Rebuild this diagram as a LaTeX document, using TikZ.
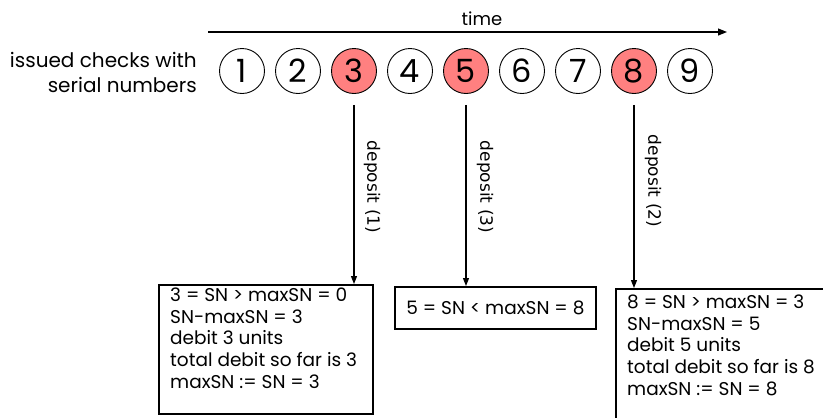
\documentclass[tikz,border=0pt]{standalone}
\usepackage{fontspec}
\setmainfont{Poppins}
\newfontfamily\depfont{DejaVu Sans}
\usetikzlibrary{arrows.meta}
\definecolor{chk}{HTML}{FF8080}
\begin{document}
\begin{tikzpicture}[x=1pt,y=-1pt,
  chkc/.style={circle,draw,line width=0.9pt,minimum size=45pt,inner sep=0pt,font=\fontsize{32}{32}\selectfont},
  hit/.style={chkc,fill=chk},
  boxr/.style={draw,line width=1.8pt,anchor=north west,inner sep=0pt},
  boxt/.style={anchor=north west,inner sep=0pt,align=left,font=\fontsize{18.5}{21.7}\selectfont},
  arr/.style={line width=1.3pt,-{Triangle[length=8pt,width=6pt]}},
  dep/.style={rotate=-90,font=\depfont\fontsize{17}{17}\selectfont,inner sep=0pt}]
\clip (0,0) rectangle (823,418);
% time axis
\coordinate (ts) at (208,32);
\coordinate (te) at (727,32);
\draw[line width=1.1pt,-{Triangle[length=9pt,width=7pt]}] (ts) -- (te);
\node[anchor=base,font=\fontsize{18}{18}\selectfont] (tm) at (482,25) {time};
% left label
\node[anchor=north east,align=right,inner sep=0pt,font=\fontsize{20}{25}\selectfont] (lbl) at (197,52) {issued checks with\\serial numbers};
% checks
\node[chkc] (c1) at (242,71) {1};
\node[chkc] (c2) at (298,71) {2};
\node[hit]  (c3) at (354,71) {3};
\node[chkc] (c4) at (410,71) {4};
\node[hit]  (c5) at (466,71) {5};
\node[chkc] (c6) at (522,71) {6};
\node[chkc] (c7) at (578,71) {7};
\node[hit]  (c8) at (634,71) {8};
\node[chkc] (c9) at (690,71) {9};
% boxes
\node[boxr,minimum width=214pt,minimum height=129pt] (b1) at (158,284) {};
\node[boxt] (t1) at (170,287.5) {3 = SN > maxSN = 0\\SN-maxSN = 3\\debit 3 units\\total debit so far is 3\\maxSN := SN = 3};
\node[boxr,minimum width=201pt,minimum height=42pt,font=\fontsize{18.5}{18.5}\selectfont] (b2) at (394,286) {5 = SN < maxSN = 8};
\node[boxr,minimum width=230pt,minimum height=150pt] (b3) at (615,288) {};
\node[boxt] (t3) at (627,294.5) {8 = SN > maxSN = 3\\SN-maxSN = 5\\debit 5 units\\total debit so far is 8\\maxSN := SN = 8};
% deposits
\draw[arr] ([yshift=-11pt]c3.south) -- (c3 |- b1.north);
\draw[arr] ([yshift=-11pt]c5.south) -- (c5 |- b2.north);
\draw[arr] ([yshift=-11pt]c8.south) -- (c8 |- b3.north);
\node[dep] (d1) at (372,187) {deposit (1)};
\node[dep] (d3) at (485,187) {deposit (3)};
\node[dep] (d2) at (653,181) {deposit (2)};
\end{tikzpicture}
\end{document}
